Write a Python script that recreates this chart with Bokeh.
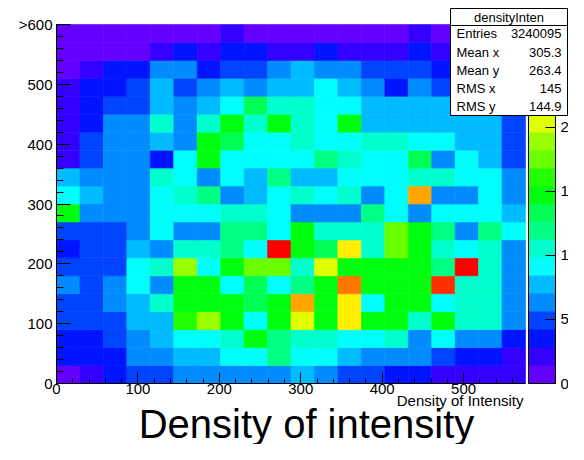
from bokeh.plotting import figure
from bokeh.models import (Range1d, FixedTicker, LinearColorMapper, ColorBar,
                          PrintfTickFormatter, ColumnDataSource)
from bokeh.core.properties import value
from bokeh.transform import transform
from bokeh.embed import file_html
from bokeh.resources import INLINE

# ---------------- data (bin contents) ----------------
x_max = 576          # x axis: 0 .. 576, 20 bins
y_max = 600          # y axis: 0 .. 600, 20 bins
z_max = 28000        # maximum bin content (top of palette)

# rows listed from top (y = 570..600) to bottom (y = 0..30); 20 x-bins each
row_585 = [700, 700, 700, 700, 700, 700, 700, 2100, 700, 700, 700, 700, 700, 700, 700, 2100, 700, 700, 700, 700]
row_555 = [700, 700, 700, 700, 2100, 3500, 2100, 3500, 3500, 2100, 2100, 3500, 2100, 2100, 2100, 3500, 2100, 2100, 2100, 2100]
row_525 = [700, 2100, 3500, 3500, 6300, 6300, 3500, 4900, 4900, 6300, 7700, 6300, 6300, 4900, 4900, 4900, 3500, 3500, 3500, 3500]
row_495 = [2100, 3500, 3500, 4900, 7700, 4900, 6300, 7700, 6300, 7700, 7700, 9100, 7700, 6300, 3500, 6300, 4900, 4900, 4900, 3500]
row_465 = [2100, 3500, 4900, 4900, 7700, 6300, 7700, 9100, 13300, 10500, 10500, 9100, 9100, 7700, 7700, 7700, 7700, 6300, 6300, 4900]
row_435 = [2100, 3500, 6300, 6300, 10500, 6300, 10500, 14700, 10500, 14700, 10500, 9100, 14700, 7700, 7700, 7700, 7700, 7700, 7700, 4900]
row_405 = [2100, 4900, 6300, 6300, 7700, 6300, 14700, 13300, 9100, 9100, 10500, 9100, 9100, 10500, 10500, 9100, 9100, 7700, 7700, 4900]
row_375 = [2100, 4900, 6300, 6300, 3500, 9100, 14700, 9100, 9100, 9100, 9100, 11900, 10500, 9100, 9100, 13300, 6300, 9100, 7700, 4900]
row_345 = [7700, 6300, 6300, 6300, 10500, 9100, 6300, 9100, 7700, 11900, 7700, 7700, 9100, 9100, 9100, 10500, 10500, 9100, 9100, 6300]
row_315 = [9100, 7700, 6300, 6300, 9100, 10500, 11900, 6300, 7700, 9100, 10500, 9100, 10500, 6300, 9100, 23100, 6300, 6300, 9100, 6300]
row_285 = [14700, 6300, 6300, 6300, 9100, 9100, 9100, 10500, 10500, 9100, 6300, 6300, 6300, 11900, 9100, 6300, 9100, 9100, 9100, 7700]
row_255 = [4900, 4900, 4900, 6300, 9100, 6300, 6300, 11900, 11900, 9100, 14700, 10500, 10500, 10500, 17500, 14700, 11900, 6300, 11900, 9100]
row_225 = [3500, 4900, 4900, 7700, 6300, 10500, 10500, 11900, 9100, 28000, 14700, 13300, 21700, 10500, 17500, 14700, 10500, 9100, 10500, 6300]
row_195 = [4900, 4900, 4900, 9100, 10500, 18900, 9100, 14700, 17500, 17500, 10500, 20300, 14700, 14700, 14700, 14700, 11900, 27300, 10500, 6300]
row_165 = [6300, 4900, 6300, 9100, 6300, 14700, 14700, 9100, 13300, 9100, 11900, 14700, 24500, 14700, 14700, 14700, 25900, 10500, 10500, 6300]
row_135 = [4900, 4900, 6300, 7700, 10500, 14700, 14700, 14700, 13300, 14700, 23100, 14700, 21700, 9100, 14700, 14700, 9100, 10500, 10500, 6300]
row_105 = [4900, 4900, 4900, 7700, 7700, 16100, 18900, 14700, 9100, 14700, 20300, 14700, 21700, 14700, 14700, 10500, 14700, 10500, 10500, 6300]
row_75 = [3500, 3500, 4900, 6300, 7700, 9100, 9100, 10500, 14700, 11900, 10500, 10500, 9100, 9100, 10500, 6300, 9100, 6300, 6300, 3500]
row_45 = [3500, 3500, 3500, 6300, 6300, 7700, 7700, 9100, 9100, 11900, 9100, 9100, 7700, 6300, 6300, 6300, 4900, 3500, 3500, 2100]
row_15 = [1300, 1500, 3500, 4900, 4900, 6300, 6300, 6300, 6300, 6300, 7700, 6300, 4900, 4900, 3500, 3500, 2100, 2100, 2100, 2100]

rows_bottom_to_top = [row_15, row_45, row_75, row_105, row_135, row_165, row_195, row_225,
                      row_255, row_285, row_315, row_345, row_375, row_405, row_435, row_465,
                      row_495, row_525, row_555, row_585]

x_ticks = [0, 100, 200, 300, 400, 500]
y_ticks = [0, 100, 200, 300, 400, 500, 600]
palette_ticks = [0, 5000, 10000, 15000, 20000, 25000]

stats_title = "densityInten"
stats_names = ["Entries", "Mean x", "Mean y", "RMS x", "RMS y"]
stats_values = ["3240095", "305.3", "263.4", "145", "144.9"]

main_title = "Density of intensity"
x_title = "Density of Intensity"

# ROOT "pretty palette" (violet -> red), 20 contour levels
palette = ["#6300ff", "#3300ff", "#0014ff", "#0044ff", "#008bff", "#00bbff", "#00fffc",
           "#00ffcc", "#00ff85", "#00ff55", "#00ff0e", "#22ff00", "#69ff00", "#99ff00",
           "#e0ff00", "#ffee00", "#ffa700", "#ff7700", "#ff3000", "#ff0000"]

FONT = "Liberation Sans"

# ---------------- layout (figure pixels) ----------------
W, H = 568, 444
HEAT_L, HEAT_R, HEAT_T, HEAT_B = 56, 525, 24, 383      # histogram area
sx = (HEAT_R - HEAT_L) / x_max
sy = (HEAT_B - HEAT_T) / y_max


def dx(px):
    return (px - HEAT_L) / sx


def dy(py):
    return (HEAT_B - py) / sy


# ---------------- build ----------------
n_y = len(rows_bottom_to_top)
n_x = len(row_15)
bw = x_max / n_x
bh = y_max / n_y
xs, ys, vs = [], [], []
for j, row in enumerate(rows_bottom_to_top):
    for i, v in enumerate(row):
        xs.append((i + 0.5) * bw)
        ys.append((j + 0.5) * bh)
        vs.append(v)
src = ColumnDataSource(dict(x=xs, y=ys, v=vs))

mapper = LinearColorMapper(palette=palette, low=0, high=z_max)

# the frame covers the whole canvas; both axes sit at the histogram's origin
p = figure(width=W, height=H, x_range=Range1d(dx(0), dx(W)), y_range=Range1d(dy(H), dy(0)),
           output_backend="svg", toolbar_location=None,
           min_border_left=0, min_border_right=0, min_border_top=0, min_border_bottom=0)
p.title.visible = False
p.outline_line_color = None
p.xgrid.grid_line_color = None
p.ygrid.grid_line_color = None
p.background_fill_color = "white"
p.border_fill_color = "white"

p.rect(x="x", y="y", width=bw, height=bh, source=src,
       fill_color=transform("v", mapper), line_color=transform("v", mapper), line_width=0.6)

# axis lines (only along the histogram)
p.segment(x0=[0, 0], y0=[0, 0], x1=[x_max, 0], y1=[0, y_max], line_color="black", line_width=1)

# axes
p.xaxis.fixed_location = 0
p.yaxis.fixed_location = 0
p.xaxis.ticker = FixedTicker(ticks=x_ticks, minor_ticks=list(range(0, 561, 20)))
p.yaxis.ticker = FixedTicker(ticks=y_ticks, minor_ticks=list(range(0, 601, 20)))
for ax in (p.xaxis[0], p.yaxis[0]):
    ax.axis_line_color = None
    ax.major_tick_line_color = "black"
    ax.minor_tick_line_color = "black"
    ax.major_tick_out = 0
    ax.minor_tick_out = 0
    ax.major_label_text_font = FONT
    ax.major_label_text_font_size = "15px"
    ax.major_label_text_color = "black"
p.xaxis.major_tick_in = 11
p.xaxis.minor_tick_in = 5
p.xaxis.major_label_standoff = 0
p.yaxis.major_tick_in = 14
p.yaxis.minor_tick_in = 7
p.yaxis.major_label_standoff = 4
p.yaxis.major_label_overrides = {600: ">600"}

# palette (z axis)
cb = ColorBar(color_mapper=mapper, orientation="vertical",
              location=(528, H - HEAT_B), width=27, height=HEAT_B - HEAT_T,
              padding=0, margin=0, ticker=FixedTicker(ticks=palette_ticks),
              formatter=PrintfTickFormatter(format="%d"),
              major_tick_in=10, major_tick_out=0, major_tick_line_color="black",
              minor_tick_line_color=None, bar_line_color="black", border_line_color=None,
              background_fill_color=None, label_standoff=5,
              major_label_text_font=FONT, major_label_text_font_size="15px",
              major_label_text_color="black")
p.add_layout(cb)

# statistics box (drawn above the palette)
BX_L, BX_R, BX_T, BX_B, BX_H = 450, 567, 8, 115, 25
p.quad(left=[dx(BX_L)], right=[dx(BX_R)], top=[dy(BX_T)], bottom=[dy(BX_B)],
       fill_color="white", line_color="black", line_width=1, level="overlay")
p.segment(x0=[dx(BX_L)], y0=[dy(BX_H)], x1=[dx(BX_R)], y1=[dy(BX_H)],
          line_color="black", line_width=1, level="overlay")
p.text(x=[dx((BX_L + BX_R) / 2)], y=[dy(16.5)], text=[stats_title], text_align="center",
       text_baseline="middle", text_font=value(FONT), text_font_size="13px",
       text_color="black", level="overlay")
row_py = [33, 51.5, 70, 88, 106]
p.text(x=[dx(BX_L + 6)] * len(stats_names), y=[dy(v) for v in row_py], text=stats_names,
       text_align="left", text_baseline="middle", text_font=value(FONT),
       text_font_size="13px", text_color="black", level="overlay")
p.text(x=[dx(BX_R - 6)] * len(stats_values), y=[dy(v) for v in row_py], text=stats_values,
       text_align="right", text_baseline="middle", text_font=value(FONT),
       text_font_size="13px", text_color="black", level="overlay")

# axis title and caption
p.text(x=[dx(523)], y=[dy(400)], text=[x_title], text_align="right", text_baseline="middle",
       text_font=value(FONT), text_font_size="15px", text_color="black")
p.text(x=[dx(306)], y=[dy(423)], text=[main_title], text_align="center",
       text_baseline="alphabetic", text_font=value(FONT), text_font_size="40px",
       text_color="black")

open("out.html", "w").write(file_html(p, INLINE))
